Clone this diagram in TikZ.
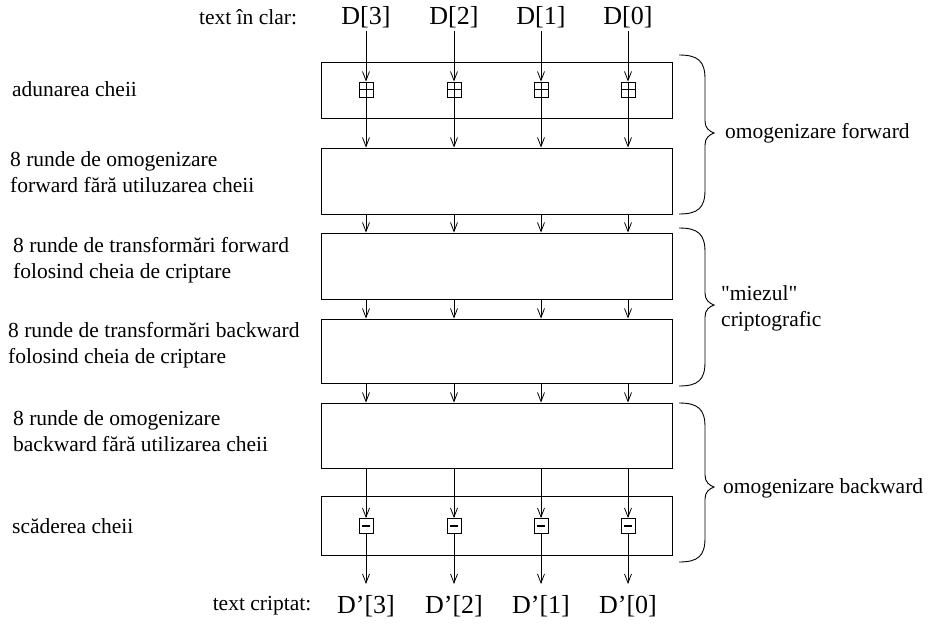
\documentclass[tikz,border=0pt]{standalone}
\usepackage{fontspec}
\setmainfont{Liberation Serif}
\newfontfamily\plainserif{Liberation Serif}
\usetikzlibrary{arrows.meta}
\begin{document}
\begin{tikzpicture}[x=1pt,y=-1pt,
  lbl/.style={font=\fontsize{21.5}{26}\selectfont, inner sep=0pt, anchor=west, align=left},
  dlbl/.style={font=\fontsize{26}{30}\selectfont, inner sep=0pt},
  blk/.style={draw, line width=0.9pt, minimum width=351pt, inner sep=0pt},
  sym/.style={draw, line width=0.9pt, minimum width=14pt, minimum height=15pt, inner sep=0pt},
  arr/.style={line width=0.8pt, -{Straight Barb[length=9pt,width=7pt,line width=0.8pt]}},
  brc/.style={line width=0.9pt}]
\useasboundingbox (0,0) rectangle (928,624);

% blocks
\node[blk, minimum height=56pt] (b1) at (496.5,90) {};
\node[blk, minimum height=66pt] (b2) at (496.5,181) {};
\node[blk, minimum height=66pt] (b3) at (496.5,266) {};
\node[blk, minimum height=64pt] (b4) at (496.5,351) {};
\node[blk, minimum height=65pt] (b5) at (496.5,435.5) {};
\node[blk, minimum height=59pt] (b6) at (496.5,525.5) {};

% top / bottom labels
\node[dlbl] (tl) at (248,17) {\fontsize{21.5}{26}\selectfont text în clar:};
\node[dlbl] (bl) at (262,606) {\fontsize{21.5}{26}\selectfont text criptat:};

\foreach \i/\x/\k in {1/366/3,2/454/2,3/541/1,4/628/0}{
  \node[dlbl] (d\i) at (\x,17) {D[\k]};
  \node[dlbl] (e\i) at (\x,606) {D'[\k]};
  \node[sym] (p\i) at (\x,89.5) {};
  \draw[line width=0.7pt] (p\i.north) -- (p\i.south) (p\i.west) -- (p\i.east);
  \node[sym] (m\i) at (\x,526) {};
  \draw[line width=2.2pt] ([xshift=-4pt]m\i.center) -- ([xshift=4pt]m\i.center);
  \coordinate (t\i) at (\x,31);
  \coordinate (u\i) at (\x,584);
  \draw[arr] (t\i) -- (p\i.north);
  \draw[arr] (p\i.south) -- (p\i |- b2.north);
  \draw[arr] (p\i |- b2.south) -- (p\i |- b3.north);
  \draw[arr] (p\i |- b3.south) -- (p\i |- b4.north);
  \draw[arr] (p\i |- b4.south) -- (p\i |- b5.north);
  \draw[arr] (p\i |- b5.south) -- (m\i.north);
  \draw[arr] (m\i.south) -- (u\i);
}

% left labels
\node[lbl] (l1) at (12,89) {adunarea cheii};
\node[lbl] (l2) at (10,172) {8 runde de omogenizare\\forward fără utiluzarea cheii};
\node[lbl] (l3) at (13,260) {8 runde de transformări forward\\folosind cheia de criptare};
\node[lbl] (l4) at (8,345.5) {8 runde de transformări backward\\folosind cheia de criptare};
\node[lbl] (l5) at (13,431) {8 runde de omogenizare\\backward fără utilizarea cheii};
\node[lbl] (l6) at (12,526) {scăderea cheii};

% braces
\foreach \t/\m/\b in {55/133/214, 228/305/386, 403/487/562}{
  \draw[brc] (679,\t) .. controls (698,\t) and (705,\t+6) .. (705,\t+24)
    -- (705,\m-12) .. controls (705,\m-5) and (709,\m-2) .. (714,\m)
    .. controls (709,\m+2) and (705,\m+5) .. (705,\m+12)
    -- (705,\b-24) .. controls (705,\b-6) and (698,\b) .. (679,\b);
}

% right labels
\node[lbl] (r1) at (725,133) {omogenizare forward};
\node[lbl] (r2) at (721,308) {\plainserif "miezul"\\criptografic};
\node[lbl] (r3) at (723,488) {omogenizare backward};
\end{tikzpicture}
\end{document}
